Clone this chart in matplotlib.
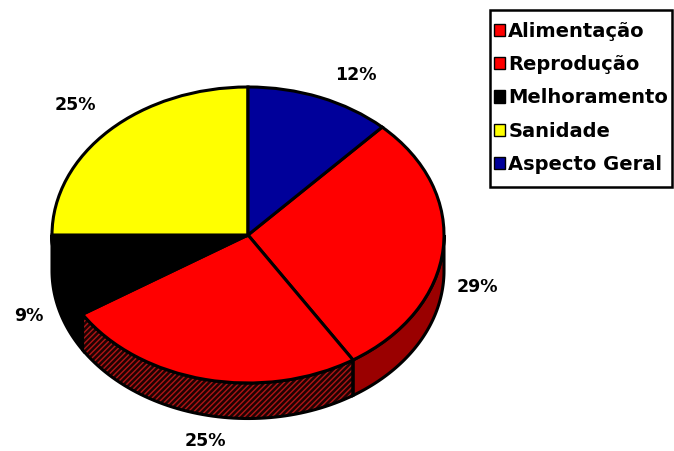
# 3d-style pie of categories (scanned chart remake)

import numpy as np
import matplotlib.pyplot as plt
from matplotlib.patches import Patch, Rectangle

plt.rcParams['font.family'] = ['DejaVu Sans']
plt.rcParams['font.weight'] = 'bold'

categories = ["Alimentação", "Reprodução", "Melhoramento", "Sanidade", "Aspecto Geral"]
values = [29, 25, 9, 25, 12]
colors = ['#ff0000', '#ff0000', '#000000', '#ffff00', '#00009a']
side_colors = ['#9a0000', '#1e0303', '#000000', '#9a9a00', '#000055']

# label spots (data coords, pie radius = 1)
label_pos = [(1.17, -0.35), (-0.22, -1.39), (-1.12, -0.55), (-0.88, 0.88), (0.55, 1.08)]

depth = 0.24
start = 90 - 360 * values[-1] / sum(values)  # excel-ish first slice angle
W, H = 674, 451

fig = plt.figure(figsize=(W/100, H/100), dpi=100)
ax = fig.add_axes([0, 0, 1, 1])

# sides (only the front half shows)
cum = np.cumsum([0] + values) / sum(values) * 360
for i in range(len(values)):
    a0 = start - cum[i]
    a1 = start - cum[i+1]
    lo = max(a1, -180)
    hi = min(a0, 0)
    if lo >= hi:
        continue
    th = np.radians(np.linspace(hi, lo, 60))
    xs = np.concatenate([np.cos(th), np.cos(th[::-1])])
    ys = np.concatenate([np.sin(th), np.sin(th[::-1]) - depth])
    if i == 1:
        ax.fill(xs, ys, facecolor=side_colors[i], edgecolor='#b01515', hatch='//////', lw=0, zorder=1)
    else:
        ax.fill(xs, ys, facecolor=side_colors[i], lw=0, zorder=1)
    ax.fill(xs, ys, facecolor='none', edgecolor='black', lw=2.2, zorder=1.5)

wedges, _ = ax.pie(values, colors=colors, startangle=start, counterclock=False,
                   radius=1, center=(0, 0), frame=True,
                   wedgeprops=dict(edgecolor='black', linewidth=2.2))
for w in wedges:
    w.set_zorder(2)
ax.set_aspect('auto')
ax.set_xlim(-248/196, (W-248)/196)
ax.set_ylim((235-H)/148, 235/148)
ax.axis('off')

for v, (x, y) in zip(values, label_pos):
    ax.text(x, y, f"{v}%", ha='center', va='center', fontsize=12.5, fontweight='bold')

# legend, with its box drawn separately
handles = [Patch(facecolor=c, edgecolor='black', lw=1) for c in colors]
leg = fig.legend(handles, categories, loc='upper left',
                 bbox_to_anchor=(494/W, 1 - 22/H), borderaxespad=0, borderpad=0,
                 prop=dict(size=14, weight='bold'), handlelength=0.58, handleheight=0.58,
                 handletextpad=0.15, labelspacing=0.73, frameon=False)
fig.patches.append(Rectangle((490/W, 1 - 187/H), 182/W, 177/H, transform=fig.transFigure,
                             facecolor='none', edgecolor='black', lw=1.8))

fig.savefig('out.png', dpi=100)
